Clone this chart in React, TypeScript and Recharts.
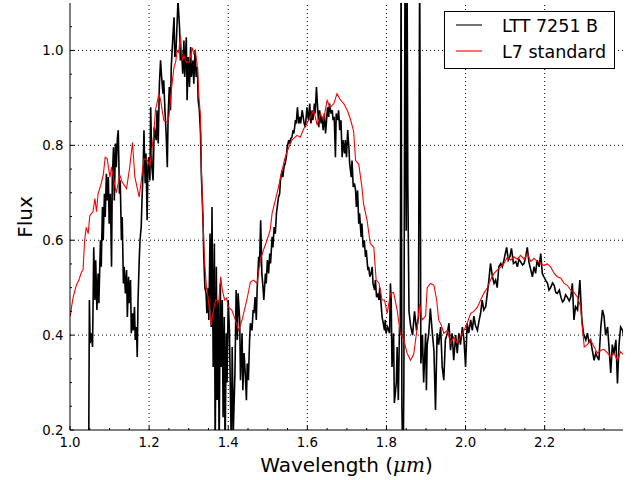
import React from 'react';
import { LineChart, Line, XAxis, YAxis, ReferenceLine } from 'recharts';

// LTT 7251 B spectrum (wavelength in micron, flux)
const lttWavelength = [
  1.047, 1.049, 1.051, 1.054, 1.057, 1.060, 1.063, 1.065, 1.068, 1.071, 1.073, 1.077, 1.079, 1.082, 1.084, 1.087, 1.089, 1.092, 1.094, 1.097,
  1.099, 1.102, 1.105, 1.107, 1.110, 1.112, 1.115, 1.117, 1.120, 1.122, 1.125, 1.127, 1.130, 1.132, 1.135, 1.137, 1.140, 1.143, 1.145, 1.148,
  1.150, 1.153, 1.155, 1.158, 1.160, 1.163, 1.165, 1.168, 1.170, 1.172, 1.175, 1.177, 1.180, 1.182, 1.185, 1.187, 1.190, 1.192, 1.195, 1.197,
  1.199, 1.202, 1.204, 1.207, 1.210, 1.213, 1.218, 1.220, 1.223, 1.226, 1.229, 1.231, 1.235, 1.237, 1.240, 1.243, 1.246, 1.248, 1.251, 1.254,
  1.256, 1.260, 1.263, 1.265, 1.268, 1.271, 1.273, 1.277, 1.279, 1.282, 1.285, 1.288, 1.290, 1.294, 1.296, 1.299, 1.302, 1.305, 1.307, 1.311,
  1.313, 1.316, 1.319, 1.322, 1.324, 1.327, 1.330, 1.332, 1.336, 1.338, 1.341, 1.344, 1.346, 1.349, 1.351, 1.354, 1.357, 1.359, 1.362, 1.365,
  1.367, 1.370, 1.372, 1.375, 1.377, 1.380, 1.382, 1.385, 1.387, 1.390, 1.392, 1.395, 1.397, 1.400, 1.403, 1.408, 1.410, 1.413, 1.417, 1.420,
  1.423, 1.425, 1.429, 1.431, 1.435, 1.437, 1.440, 1.443, 1.446, 1.448, 1.451, 1.454, 1.456, 1.460, 1.463, 1.465, 1.468, 1.471, 1.473, 1.477,
  1.479, 1.482, 1.485, 1.488, 1.490, 1.494, 1.496, 1.499, 1.502, 1.505, 1.507, 1.511, 1.513, 1.516, 1.519, 1.522, 1.524, 1.527, 1.530, 1.532,
  1.536, 1.538, 1.541, 1.544, 1.547, 1.549, 1.553, 1.555, 1.558, 1.561, 1.564, 1.566, 1.570, 1.572, 1.575, 1.578, 1.581, 1.583, 1.587, 1.592,
  1.595, 1.599, 1.603, 1.606, 1.609, 1.612, 1.614, 1.618, 1.620, 1.623, 1.626, 1.629, 1.631, 1.635, 1.637, 1.640, 1.643, 1.646, 1.648, 1.651,
  1.654, 1.656, 1.660, 1.663, 1.665, 1.668, 1.671, 1.673, 1.677, 1.679, 1.682, 1.685, 1.688, 1.690, 1.694, 1.696, 1.699, 1.702, 1.705, 1.707,
  1.711, 1.713, 1.716, 1.719, 1.722, 1.724, 1.727, 1.730, 1.732, 1.736, 1.738, 1.741, 1.744, 1.747, 1.749, 1.753, 1.755, 1.758, 1.761, 1.764,
  1.766, 1.770, 1.772, 1.775, 1.778, 1.781, 1.783, 1.787, 1.789, 1.792, 1.795, 1.797, 1.799, 1.803, 1.808, 1.810, 1.812, 1.814, 1.818, 1.820,
  1.825, 1.827, 1.830, 1.833, 1.835, 1.837, 1.839, 1.842, 1.844, 1.847, 1.850, 1.852, 1.854, 1.857, 1.861, 1.866, 1.871, 1.876, 1.881, 1.884,
  1.887, 1.891, 1.894, 1.899, 1.901, 1.903, 1.907, 1.911, 1.916, 1.920, 1.924, 1.928, 1.932, 1.937, 1.941, 1.945, 1.949, 1.954, 1.958, 1.962,
  1.966, 1.970, 1.975, 1.979, 1.983, 1.987, 1.992, 1.996, 2.000, 2.004, 2.008, 2.013, 2.017, 2.021, 2.025, 2.030, 2.034, 2.038, 2.042, 2.046,
  2.051, 2.055, 2.059, 2.063, 2.068, 2.072, 2.076, 2.080, 2.084, 2.089, 2.093, 2.097, 2.100, 2.104, 2.108, 2.112, 2.116, 2.121, 2.127, 2.131,
  2.135, 2.139, 2.144, 2.148, 2.152, 2.156, 2.160, 2.165, 2.169, 2.173, 2.177, 2.181, 2.186, 2.190, 2.194, 2.198, 2.203, 2.207, 2.211, 2.215,
  2.220, 2.224, 2.228, 2.232, 2.237, 2.241, 2.245, 2.249, 2.253, 2.257, 2.262, 2.266, 2.270, 2.274, 2.278, 2.283, 2.289, 2.294, 2.298, 2.304,
  2.308, 2.312, 2.316, 2.320, 2.325, 2.329, 2.333, 2.337, 2.342, 2.346, 2.350, 2.354, 2.359, 2.363, 2.367, 2.371, 2.375, 2.380, 2.384, 2.388,
  2.392, 2.397, 2.401,
];
const lttFlux = [
  0.10, 0.474, 0.383, 0.404, 0.375, 0.585, 0.474, 0.558, 0.453, 0.53, 0.467, 0.60, 0.544, 0.67, 0.60, 0.698, 0.649, 0.74, 0.684, 0.733,
  0.635, 0.698, 0.544, 0.733, 0.796, 0.684, 0.804, 0.754, 0.817, 0.832, 0.698, 0.726, 0.60, 0.649, 0.509, 0.544, 0.488, 0.537, 0.438, 0.523,
  0.467, 0.516, 0.404, 0.446, 0.41, 0.459, 0.39, 0.417, 0.354, 0.474, 0.558, 0.60, 0.628, 0.684, 0.754, 0.832, 0.72, 0.783, 0.642, 0.754,
  0.775, 0.726, 0.88, 0.754, 0.726, 0.838, 0.811, 0.874, 0.804, 0.93, 0.979, 0.951, 0.909, 0.937, 0.874, 0.825, 0.754, 0.86, 0.923, 0.874,
  0.965, 1.028, 1.07, 0.986, 1.0, 1.063, 1.105, 1.048, 0.979, 1.0, 0.951, 1.021, 0.944, 1.028, 0.895, 0.986, 0.923, 1.007, 0.944, 0.979,
  0.93, 1.0, 0.944, 0.965, 0.895, 0.874, 0.825, 0.74, 0.649, 0.572, 0.50, 0.488, 0.446, 0.50, 0.432, 0.614, 0.417, 0.67, 0.333, 0.593,
  0.15, 0.544, 0.263, 0.474, 0.15, 0.509, 0.333, 0.474, 0.227, 0.438, 0.15, 0.404, 0.30, 0.474, 0.41, 0.15, 0.375, 0.20, 0.32, 0.495,
  0.39, 0.488, 0.432, 0.305, 0.404, 0.284, 0.362, 0.32, 0.263, 0.34, 0.305, 0.39, 0.425, 0.41, 0.453, 0.446, 0.48, 0.432, 0.495, 0.565,
  0.544, 0.642, 0.53, 0.50, 0.474, 0.53, 0.509, 0.558, 0.53, 0.572, 0.551, 0.607, 0.585, 0.628, 0.614, 0.657, 0.67, 0.69, 0.698, 0.726,
  0.747, 0.733, 0.754, 0.762, 0.775, 0.796, 0.811, 0.804, 0.814, 0.817, 0.832, 0.825, 0.853, 0.846, 0.88, 0.846, 0.86, 0.846, 0.874, 0.846,
  0.838, 0.88, 0.853, 0.888, 0.846, 0.874, 0.853, 0.888, 0.867, 0.923, 0.88, 0.838, 0.874, 0.846, 0.86, 0.832, 0.867, 0.825, 0.846, 0.88,
  0.86, 0.888, 0.867, 0.874, 0.853, 0.86, 0.775, 0.867, 0.853, 0.874, 0.832, 0.853, 0.775, 0.811, 0.783, 0.811, 0.775, 0.832, 0.796, 0.762,
  0.733, 0.768, 0.712, 0.72, 0.705, 0.67, 0.705, 0.635, 0.657, 0.607, 0.635, 0.585, 0.60, 0.565, 0.579, 0.537, 0.544, 0.523, 0.53, 0.544,
  0.509, 0.495, 0.516, 0.48, 0.488, 0.474, 0.50, 0.459, 0.438, 0.425, 0.41, 0.432, 0.404, 0.417, 0.404, 0.509, 0.474, 0.333, 0.404, 0.257,
  0.30, 0.375, 0.263, 0.417, 0.40, 1.2, 0.25, 0.10, 0.30, 1.2, 0.62, 1.2, 0.72, 0.45, 0.42, 0.40, 0.45, 0.41, 0.44, 1.2,
  0.34, 0.40, 0.30, 0.404, 0.284, 0.38, 0.404, 0.456, 0.404, 0.368, 0.242, 0.404, 0.38, 0.417, 0.333, 0.305, 0.39, 0.404, 0.425, 0.368,
  0.404, 0.347, 0.40, 0.362, 0.404, 0.38, 0.417, 0.39, 0.333, 0.425, 0.404, 0.432, 0.41, 0.44, 0.42, 0.41, 0.43, 0.446, 0.474, 0.453,
  0.46, 0.488, 0.516, 0.551, 0.523, 0.509, 0.516, 0.50, 0.544, 0.551, 0.544, 0.558, 0.57, 0.585, 0.558, 0.565, 0.583, 0.551, 0.555, 0.544,
  0.56, 0.555, 0.548, 0.551, 0.565, 0.585, 0.555, 0.537, 0.523, 0.544, 0.53, 0.558, 0.544, 0.572, 0.53, 0.523, 0.515, 0.509, 0.495, 0.50,
  0.51, 0.505, 0.49, 0.488, 0.495, 0.48, 0.47, 0.474, 0.485, 0.48, 0.472, 0.48, 0.509, 0.432, 0.46, 0.453, 0.516, 0.432, 0.404, 0.39,
  0.404, 0.385, 0.39, 0.37, 0.347, 0.362, 0.354, 0.347, 0.417, 0.453, 0.44, 0.40, 0.417, 0.37, 0.32, 0.38, 0.36, 0.39, 0.298, 0.38,
  0.417, 0.41, 0.39,
];

// L7 standard spectrum
const l7Wavelength = [
  1.001, 1.004, 1.008, 1.016, 1.022, 1.029, 1.033, 1.037, 1.041, 1.046, 1.050, 1.058, 1.063, 1.067, 1.071, 1.079, 1.084, 1.089, 1.094, 1.101,
  1.105, 1.111, 1.117, 1.126, 1.132, 1.143, 1.151, 1.158, 1.164, 1.175, 1.187, 1.196, 1.202, 1.212, 1.216, 1.225, 1.229, 1.237, 1.246, 1.250,
  1.258, 1.263, 1.267, 1.271, 1.275, 1.279, 1.284, 1.288, 1.294, 1.301, 1.305, 1.309, 1.313, 1.317, 1.322, 1.326, 1.330, 1.332, 1.336, 1.340,
  1.345, 1.349, 1.353, 1.357, 1.361, 1.368, 1.376, 1.381, 1.385, 1.391, 1.396, 1.400, 1.409, 1.418, 1.426, 1.435, 1.447, 1.456, 1.464, 1.473,
  1.481, 1.489, 1.498, 1.506, 1.511, 1.519, 1.527, 1.536, 1.544, 1.553, 1.561, 1.574, 1.582, 1.591, 1.599, 1.608, 1.616, 1.625, 1.633, 1.641,
  1.650, 1.658, 1.667, 1.675, 1.684, 1.692, 1.701, 1.709, 1.717, 1.722, 1.730, 1.738, 1.742, 1.751, 1.759, 1.768, 1.774, 1.781, 1.789, 1.795,
  1.802, 1.810, 1.818, 1.827, 1.835, 1.844, 1.852, 1.861, 1.869, 1.878, 1.884, 1.890, 1.899, 1.903, 1.911, 1.920, 1.927, 1.932, 1.939, 1.945,
  1.954, 1.962, 1.970, 1.979, 1.987, 1.996, 2.004, 2.013, 2.021, 2.030, 2.038, 2.046, 2.055, 2.063, 2.072, 2.080, 2.089, 2.097, 2.106, 2.114,
  2.122, 2.131, 2.139, 2.148, 2.156, 2.165, 2.173, 2.181, 2.190, 2.198, 2.207, 2.215, 2.224, 2.232, 2.241, 2.249, 2.257, 2.266, 2.274, 2.283,
  2.291, 2.296, 2.300, 2.308, 2.316, 2.325, 2.333, 2.342, 2.350, 2.359, 2.367, 2.375, 2.384, 2.392, 2.400,
];
const l7Flux = [
  0.44, 0.46, 0.48, 0.505, 0.515, 0.533, 0.537, 0.60, 0.627, 0.614, 0.652, 0.66, 0.688, 0.66, 0.698, 0.72, 0.737, 0.775, 0.772, 0.733,
  0.754, 0.726, 0.70, 0.737, 0.722, 0.709, 0.754, 0.806, 0.733, 0.691, 0.772, 0.768, 0.758, 0.825, 0.874, 0.909, 0.895, 0.853, 0.849, 0.86,
  0.93, 0.965, 0.975, 1.0, 0.996, 1.032, 0.979, 0.989, 0.975, 0.975, 0.989, 1.006, 0.993, 1.0, 0.965, 0.902, 0.86, 0.754, 0.649, 0.558,
  0.50, 0.48, 0.446, 0.421, 0.446, 0.474, 0.47, 0.523, 0.495, 0.474, 0.478, 0.459, 0.453, 0.432, 0.41, 0.432, 0.474, 0.512, 0.516, 0.509,
  0.558, 0.579, 0.60, 0.621, 0.657, 0.684, 0.712, 0.747, 0.775, 0.796, 0.811, 0.821, 0.817, 0.835, 0.846, 0.86, 0.874, 0.842, 0.867, 0.853,
  0.895, 0.88, 0.888, 0.909, 0.895, 0.888, 0.874, 0.855, 0.83, 0.768, 0.76, 0.712, 0.677, 0.642, 0.593, 0.585, 0.516, 0.51, 0.474, 0.474,
  0.446, 0.488, 0.49, 0.453, 0.404, 0.39, 0.362, 0.347, 0.36, 0.417, 0.467, 0.432, 0.44, 0.50, 0.509, 0.505, 0.474, 0.432, 0.42, 0.404,
  0.41, 0.383, 0.396, 0.383, 0.396, 0.41, 0.425, 0.446, 0.45, 0.459, 0.474, 0.488, 0.50, 0.516, 0.53, 0.537, 0.544, 0.551, 0.565, 0.558,
  0.565, 0.56, 0.568, 0.56, 0.572, 0.555, 0.562, 0.556, 0.551, 0.547, 0.55, 0.544, 0.53, 0.523, 0.52, 0.509, 0.505, 0.495, 0.49, 0.48,
  0.459, 0.41, 0.375, 0.38, 0.39, 0.375, 0.362, 0.368, 0.37, 0.362, 0.354, 0.362, 0.347, 0.365, 0.358,
];

const seriesNames = ['LTT 7251 B', 'L7 standard'];
const seriesColors = ['#000000', '#ff0000'];

const xMajorTicks = [1.0, 1.2, 1.4, 1.6, 1.8, 2.0, 2.2];
const xMinorTicks = [1.05, 1.1, 1.15, 1.25, 1.3, 1.35, 1.45, 1.5, 1.55, 1.65, 1.7, 1.75, 1.85, 1.9, 1.95, 2.05, 2.1, 2.15, 2.25, 2.3, 2.35];
const yMajorTicks = [0.2, 0.4, 0.6, 0.8, 1.0];
const yMinorTicks = [0.25, 0.3, 0.35, 0.45, 0.5, 0.55, 0.65, 0.7, 0.75, 0.85, 0.9, 0.95, 1.05];

const xDomain: [number, number] = [1.0, 2.398];
const yDomain: [number, number] = [0.2, 1.1];

const lttData = lttWavelength.map((w, i) => ({ w, f: lttFlux[i] }));
const l7Data = l7Wavelength.map((w, i) => ({ w, f: l7Flux[i] }));

const allXTicks = [...xMajorTicks, ...xMinorTicks].sort((a, b) => a - b);
const allYTicks = [...yMajorTicks, ...yMinorTicks].sort((a, b) => a - b);

const FONT = '"DejaVu Sans", sans-serif';
const isIn = (arr: number[], v: number) => arr.some((a) => Math.abs(a - v) < 1e-9);

const BottomTick = (props: any) => {
  const { x, y, payload } = props;
  const major = isIn(xMajorTicks, payload.value);
  return (
    <g>
      <line x1={x} y1={y} x2={x} y2={y - (major ? 4 : 2)} stroke="#000" strokeWidth={1} />
      {major && (
        <text x={x} y={y + 16.7} textAnchor="middle" fontSize={13.3} fontFamily={FONT} fill="#000">
          {Number(payload.value).toFixed(1)}
        </text>
      )}
    </g>
  );
};

const TopTick = (props: any) => {
  const { x, y, payload } = props;
  const major = isIn(xMajorTicks, payload.value);
  return <line x1={x} y1={y} x2={x} y2={y + (major ? 4 : 2)} stroke="#000" strokeWidth={1} />;
};

const LeftTick = (props: any) => {
  const { x, y, payload } = props;
  const major = isIn(yMajorTicks, payload.value);
  return (
    <g>
      <line x1={x} y1={y} x2={x + (major ? 4 : 2)} y2={y} stroke="#000" strokeWidth={1} />
      {major && (
        <text x={x - 6.5} y={y + 4.8} textAnchor="end" fontSize={13.3} fontFamily={FONT} fill="#000">
          {Number(payload.value).toFixed(1)}
        </text>
      )}
    </g>
  );
};

const RightTick = (props: any) => {
  const { x, y, payload } = props;
  const major = isIn(yMajorTicks, payload.value);
  return <line x1={x} y1={y} x2={x - (major ? 4 : 2)} y2={y} stroke="#000" strokeWidth={1} />;
};

const gridStyle = { stroke: '#000', strokeWidth: 1, strokeDasharray: '1 3' };

export default function App() {
  return (
    <div style={{ position: 'absolute', left: 0, top: 0, width: 640, height: 480, background: '#fff' }}>
      <LineChart width={640} height={480} margin={{ top: 3, right: 17, bottom: 0, left: 0 }}>
        <XAxis
          xAxisId="bottom"
          dataKey="w"
          type="number"
          orientation="bottom"
          domain={xDomain}
          allowDataOverflow
          ticks={allXTicks}
          interval={0}
          height={50}
          tickSize={0}
          tickMargin={0}
          tickLine={false}
          axisLine={{ stroke: '#000', strokeWidth: 1 }}
          tick={<BottomTick />}
        />
        <XAxis
          xAxisId="top"
          dataKey="w"
          type="number"
          orientation="top"
          domain={xDomain}
          allowDataOverflow
          ticks={allXTicks}
          interval={0}
          height={0}
          tickSize={0}
          tickMargin={0}
          tickLine={false}
          axisLine={{ stroke: '#000', strokeWidth: 1 }}
          tick={<TopTick />}
        />
        <YAxis
          yAxisId="left"
          type="number"
          orientation="left"
          domain={yDomain}
          allowDataOverflow
          ticks={allYTicks}
          interval={0}
          width={70}
          tickSize={0}
          tickMargin={0}
          tickLine={false}
          axisLine={{ stroke: '#000', strokeWidth: 1 }}
          tick={<LeftTick />}
        />
        <YAxis
          yAxisId="right"
          type="number"
          orientation="right"
          domain={yDomain}
          allowDataOverflow
          ticks={allYTicks}
          interval={0}
          width={0}
          tickSize={0}
          tickMargin={0}
          tickLine={false}
          axisLine={{ stroke: '#000', strokeWidth: 1 }}
          tick={<RightTick />}
        />
        {xMajorTicks.slice(1).map((v) => (
          <ReferenceLine key={`gx${v}`} x={v} xAxisId="bottom" yAxisId="left" {...gridStyle} />
        ))}
        {yMajorTicks.slice(1).map((v) => (
          <ReferenceLine key={`gy${v}`} y={v} xAxisId="bottom" yAxisId="left" {...gridStyle} />
        ))}
        <Line
          data={lttData}
          xAxisId="bottom"
          yAxisId="left"
          dataKey="f"
          name={seriesNames[0]}
          type="linear"
          stroke={seriesColors[0]}
          strokeWidth={1.6}
          dot={false}
          activeDot={false}
          isAnimationActive={false}
        />
        <Line
          data={l7Data}
          xAxisId="bottom"
          yAxisId="left"
          dataKey="f"
          name={seriesNames[1]}
          type="linear"
          stroke={seriesColors[1]}
          strokeWidth={1.1}
          dot={false}
          activeDot={false}
          isAnimationActive={false}
        />
      </LineChart>
      <svg
        width={640}
        height={480}
        style={{ position: 'absolute', left: 0, top: 0, pointerEvents: 'none' }}
      >
        <text
          x={32}
          y={217}
          transform="rotate(-90 32 217)"
          textAnchor="middle"
          fontSize={20}
          fontFamily={FONT}
          fill="#000"
        >
          Flux
        </text>
        <text x={346.5} y={472} textAnchor="middle" fontSize={20} fontFamily={FONT} fill="#000">
          Wavelength (
          <tspan fontFamily='"DejaVu Serif", serif' fontStyle="italic">μm</tspan>)
        </text>
        <g>
          <rect x={444.5} y={11.5} width={170} height={57} fill="#fff" stroke="#000" strokeWidth={1} />
          <line x1={456} y1={25} x2={482} y2={25} stroke={seriesColors[0]} strokeWidth={1.1} />
          <text x={502} y={31.5} fontSize={17.5} fontFamily={FONT} fill="#000">
            {seriesNames[0]}
          </text>
          <line x1={456} y1={51} x2={482} y2={51} stroke={seriesColors[1]} strokeWidth={1.1} />
          <text x={502} y={57.5} fontSize={17.5} fontFamily={FONT} fill="#000">
            {seriesNames[1]}
          </text>
        </g>
      </svg>
    </div>
  );
}
